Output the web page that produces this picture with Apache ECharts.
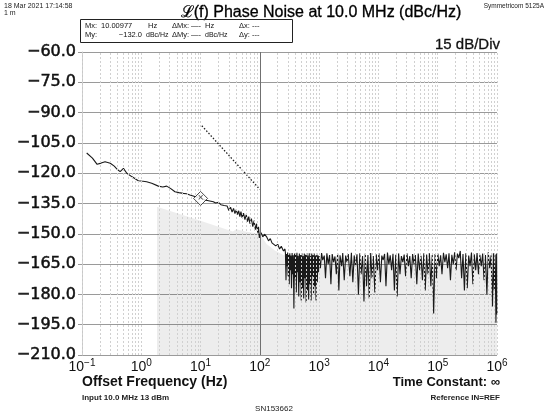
<!DOCTYPE html>
<html>
<head>
<meta charset="utf-8">
<script src="https://cdn.jsdelivr.net/npm/echarts@6/dist/echarts.min.js"></script>
<style>
  html, body { margin: 0; padding: 0; background: #fff; }
  #chart { width: 547px; height: 414px; }
</style>
</head>
<body>
<div id="chart"></div>
<script>
// y ticks (dBc/Hz), 15 dB per division
const levelTicks = [-60, -75, -90, -105, -120, -135, -150, -165, -180, -195, -210];
// decades of offset frequency (Hz)
const decades = [0.1, 1, 10, 100, 1000, 10000, 100000, 1000000];
const minorSteps = [2, 3, 4, 5, 6, 7, 8, 9];

// measured phase noise trace, close-in part
const closeFreq = [
  0.12, 0.15, 0.18, 0.21, 0.245, 0.3, 0.35, 0.4, 0.44, 0.5, 0.57, 0.7, 0.89, 1.0, 1.23, 1.5,
  1.94, 2.3, 2.68, 3.1, 3.7, 4.3, 5.1, 5.8, 6.6, 7.5, 8.5, 10, 11.5, 13, 14, 16.4, 18, 20, 22, 25,
  28, 30, 32, 34, 36, 38, 40, 42, 44, 46, 48, 50, 53, 56, 59, 62, 65, 68, 72, 76, 80, 84, 88, 92,
  95, 98, 100, 105, 112, 120, 130, 140, 150, 160, 170, 185, 200, 215, 230, 250, 265
];
const closeLevel = [
  -110, -112.5, -115.6, -115, -114.3, -115.1, -116.5, -118.3, -119.2, -117.6, -120, -121.8, -123.7, -123.9, -124.2, -125,
  -126.4, -126.8, -126.4, -127.5, -129.2, -129.6, -130, -130.2, -130.8, -131.3, -131.8, -132, -133.2, -133.5, -133, -134.1, -134.8, -134.4, -135.6, -136,
  -136.2, -138.5, -136.8, -139.2, -137.4, -140, -138, -140.5, -138.6, -141.5, -139, -142, -139.8, -143, -140.5, -144, -141.5, -145, -142.5, -146.5, -143.5, -148, -145, -149.5,
  -146.5, -152, -150.5, -149.5, -151.5, -150.2, -151.5, -153.5, -152.4, -154.5, -153.6, -156, -155.2, -157.5, -156.2, -158.5, -157.5
];

// measured phase noise trace, noise floor part
const floorNoiseFreq = [
  270, 276, 282, 288, 294, 300, 306, 313, 320, 327,
  334, 342, 350, 358, 366, 375, 384, 393, 402, 412,
  422, 432, 442, 453, 464, 475, 487, 499, 511, 523,
  536, 549, 562, 576, 590, 604, 619, 634, 649, 665,
  681, 698, 715, 732, 750, 768, 787, 806, 826, 846,
  866, 887, 909, 931, 954, 977, 1000, 1050, 1100,
  1150, 1220, 1280, 1350, 1420, 1500, 1580, 1660, 1750, 1850, 1950, 2050, 2150, 2250, 2400, 2500,
  2650, 2800, 2950, 3100, 3300, 3500, 3700, 3900, 4100, 4350, 4600, 4850, 5100, 5400, 5700, 6000,
  6300, 6650, 7000, 7400, 7800, 8200, 8700, 9200, 9700, 10200, 10800, 11400, 12000, 12700, 13400,
  14200, 15000, 15800, 16700, 17600, 18600, 19600, 20700, 21900, 23100, 24400, 25800, 27200, 28700,
  30300, 32000, 33800, 35700, 37700, 39800, 42000, 44400, 46900, 49500, 52300, 55200, 58300, 61600,
  65000, 68700, 72500, 76600, 80900, 85400, 90200, 95200, 100500, 106000, 112000, 118000, 125000,
  132000, 139000, 147000, 155000, 164000, 173000, 183000, 193000, 204000, 215000, 227000, 240000,
  253000, 267000, 282000, 298000, 315000, 333000, 351000, 371000, 392000, 414000, 437000, 461000,
  487000, 514000, 543000, 573000, 605000, 639000, 675000, 713000, 753000, 795000, 840000, 870000,
  900000, 930000, 960000, 985000, 1000000
];
const floorNoiseLevel = [
  -159.5, -173, -160, -166, -159.3, -171, -160.4, -175, -159.6, -168,
  -160.8, -177, -159.5, -170, -160.6, -187, -159.8, -172, -160.3, -179,
  -159.4, -169, -160.9, -181, -159.7, -174, -160.5, -183, -159.6, -177,
  -161, -182, -159.8, -172, -160.4, -184, -159.5, -178, -160.7, -182.5,
  -159.6, -175, -160.9, -183, -159.8, -171, -160.5, -180, -159.7, -176,
  -160.8, -183, -159.6, -174, -160.6, -169, -161, -167, -159.5,
  -163, -160.8, -172, -159.6, -165, -160.5, -175, -160, -164, -161.2, -170, -159.8, -178, -160.6, -166, -159.5,
  -173, -160.8, -164, -160, -171, -159.4, -174, -160.7, -166, -160.1, -180, -159.6, -170, -161, -183.5, -159.8,
  -176, -160.5, -182, -159.5, -172, -161, -179, -160.2, -168, -159.7, -174, -160.8, -163, -160, -176,
  -159.3, -165, -160.6, -168, -159.9, -178, -160.4, -181, -159.7, -170, -161, -164, -160.3, -171,
  -159.6, -166, -161, -172, -160, -165, -160.5, -175, -159.8, -168, -160.9, -173, -159.7, -178,
  -160.3, -170, -159.6, -176, -160.5, -189.5, -160, -172, -159.8, -166, -160.6, -170, -159.4,
  -164, -160.2, -167, -159.7, -173, -160.4, -165, -159.2, -168, -159.8, -162, -158.5,
  -172, -160, -178, -159.6, -177, -160.8, -166, -159.3, -175, -160.2, -168, -159.5,
  -170, -160.4, -166, -159.8, -173, -160.5, -180, -159.2, -167, -160.6, -186, -159.6,
  -178, -160.2, -194, -159.8, -190
];

// shaded reference floor
const floorFreq = [1.84, 1.84, 5, 10, 20, 35, 40, 60, 100, 130, 180, 250, 400, 1000, 10000, 100000, 1000000];
const floorLevel = [-210, -136.6, -140.7, -143.6, -146.5, -148.9, -147.8, -149, -150, -155, -158.3, -160.5, -161.8, -162.5, -163.5, -164, -164];

// dotted slope reference line
const slopeFreq = [10.5, 100];
const slopeLevel = [-96.5, -128];

// marker
const markerFreq = 10;
const markerLevel = -132.5;

const FONT = '"Liberation Sans", Arial, sans-serif';
const WIDE = '"DejaVu Sans", sans-serif';
const pairs = (xs, ys) => xs.map((x, i) => [x, ys[i]]);

const minorLines = [];
decades.forEach(d => {
  minorLines.push({ xAxis: d });
  if (d < 1000000) minorSteps.forEach(s => minorLines.push({ xAxis: d * s }));
});

const minus = v => (v < 0 ? '\u2212' : '') + Math.abs(v);

const chart = echarts.init(document.getElementById('chart'), null, { renderer: 'canvas' });
chart.setOption({
  animation: false,
  backgroundColor: '#fff',
  textStyle: { fontFamily: FONT },
  grid: { left: 82, right: 50, top: 52, bottom: 59 },
  xAxis: {
    type: 'log',
    logBase: 10,
    min: 0.1,
    max: 1000000,
    axisLine: { show: false },
    axisTick: { show: false },
    splitLine: { show: false },
    axisLabel: {
      margin: 3,
      formatter: v => '{b|10}{s|' + minus(Math.round(Math.log10(v))) + '}',
      rich: {
        b: { fontSize: 14, color: '#111', fontFamily: FONT, lineHeight: 18 },
        s: { fontSize: 10, color: '#111', fontFamily: FONT, verticalAlign: 'top' }
      }
    }
  },
  yAxis: {
    type: 'value',
    min: -210,
    max: -60,
    interval: 15,
    axisLine: { show: true, lineStyle: { color: '#c8c8c8', width: 1 } },
    axisTick: { show: true, length: 4, lineStyle: { color: '#999' } },
    splitLine: { show: true, lineStyle: { color: '#9a9a9a', width: 1 } },
    axisLabel: {
      margin: 6,
      fontSize: 16,
      color: '#111',
      fontFamily: WIDE,
      textBorderColor: '#111',
      textBorderWidth: 0.5,
      formatter: v => (v < 0 ? '\u2212' : '') + Math.abs(v).toFixed(1)
    }
  },
  series: [
    {
      type: 'line',
      data: pairs(floorFreq, floorLevel),
      symbol: 'none',
      lineStyle: { width: 0 },
      areaStyle: { origin: 'start', color: 'rgba(0,0,0,0.1)' },
      silent: true
    },
    {
      type: 'line',
      data: [],
      silent: true,
      markLine: {
        silent: true,
        symbol: 'none',
        label: { show: false },
        lineStyle: { color: '#d0d0d0', type: [2, 2], width: 1 },
        data: minorLines
      }
    },
    {
      type: 'line',
      data: [],
      silent: true,
      markLine: {
        silent: true,
        symbol: 'none',
        label: { show: false },
        lineStyle: { color: '#707070', type: 'solid', width: 1 },
        data: [{ xAxis: 100 }]
      }
    },
    {
      type: 'line',
      data: pairs(slopeFreq, slopeLevel),
      symbol: 'none',
      lineStyle: { color: '#222', width: 1.3, type: [1.5, 1.8] },
      silent: true
    },
    {
      type: 'line',
      data: pairs(closeFreq, closeLevel).concat(pairs(floorNoiseFreq, floorNoiseLevel)),
      symbol: 'none',
      lineStyle: { color: '#1a1a1a', width: 1.1 },
      silent: true
    },
    {
      type: 'scatter',
      data: [[markerFreq, markerLevel]],
      symbol: 'diamond',
      symbolSize: [14, 14],
      itemStyle: { color: '#fff', borderColor: '#222', borderWidth: 1 },
      label: { show: true, position: 'inside', formatter: '\u00d7', fontSize: 10, color: '#222', fontFamily: FONT },
      silent: true,
      z: 5
    }
  ],
  graphic: [
    { type: 'text', left: 4, top: 3, style: { text: '18 Mar 2021 17:14:58', font: '7px ' + FONT, fill: '#222' } },
    { type: 'text', left: 4, top: 10, style: { text: '1 m', font: '7px ' + FONT, fill: '#222' } },
    { type: 'text', right: 3, top: 3, style: { text: 'Symmetricom 5125A', font: '6.5px ' + FONT, fill: '#222' } },
    { type: 'text', x: 321, y: 13, style: { text: '\u2112(f) Phase Noise at 10.0 MHz (dBc/Hz)', font: '16px ' + FONT, fill: '#000', align: 'center', verticalAlign: 'middle', stroke: '#000', lineWidth: 0.3 } },
    { type: 'rect', shape: { x: 80.5, y: 19.5, width: 212, height: 23 }, style: { fill: 'none', stroke: '#222', lineWidth: 1 } },
    { type: 'text', x: 85, y: 26, style: { text: 'Mx:', font: '7.5px ' + FONT, fill: '#111', verticalAlign: 'middle' } },
    { type: 'text', x: 101, y: 26, style: { text: '10.00977', font: '7.5px ' + FONT, fill: '#111', verticalAlign: 'middle' } },
    { type: 'text', x: 148, y: 26, style: { text: 'Hz', font: '7.5px ' + FONT, fill: '#111', verticalAlign: 'middle' } },
    { type: 'text', x: 172, y: 26, style: { text: '\u0394Mx:', font: '7.5px ' + FONT, fill: '#111', verticalAlign: 'middle' } },
    { type: 'text', x: 191, y: 26, style: { text: '\u2014-', font: '7.5px ' + FONT, fill: '#111', verticalAlign: 'middle' } },
    { type: 'text', x: 205, y: 26, style: { text: 'Hz', font: '7.5px ' + FONT, fill: '#111', verticalAlign: 'middle' } },
    { type: 'text', x: 239, y: 26, style: { text: '\u0394x:', font: '7.5px ' + FONT, fill: '#111', verticalAlign: 'middle' } },
    { type: 'text', x: 252, y: 26, style: { text: '---', font: '7.5px ' + FONT, fill: '#111', verticalAlign: 'middle' } },
    { type: 'text', x: 85, y: 35, style: { text: 'My:', font: '7.5px ' + FONT, fill: '#111', verticalAlign: 'middle' } },
    { type: 'text', x: 142, y: 35, style: { text: '\u2212132.0', font: '7.5px ' + FONT, fill: '#111', align: 'right', verticalAlign: 'middle' } },
    { type: 'text', x: 146, y: 35, style: { text: 'dBc/Hz', font: '7px ' + FONT, fill: '#111', verticalAlign: 'middle' } },
    { type: 'text', x: 172, y: 35, style: { text: '\u0394My:', font: '7.5px ' + FONT, fill: '#111', verticalAlign: 'middle' } },
    { type: 'text', x: 191, y: 35, style: { text: '\u2014-', font: '7.5px ' + FONT, fill: '#111', verticalAlign: 'middle' } },
    { type: 'text', x: 205, y: 35, style: { text: 'dBc/Hz', font: '7px ' + FONT, fill: '#111', verticalAlign: 'middle' } },
    { type: 'text', x: 239, y: 35, style: { text: '\u0394y:', font: '7.5px ' + FONT, fill: '#111', verticalAlign: 'middle' } },
    { type: 'text', x: 252, y: 35, style: { text: '---', font: '7.5px ' + FONT, fill: '#111', verticalAlign: 'middle' } },
    { type: 'text', x: 500, y: 45, style: { text: '15 dB/Div', font: '15px ' + FONT, fill: '#111', align: 'right', verticalAlign: 'middle', stroke: '#111', lineWidth: 0.3 } },
    { type: 'text', x: 82, y: 382, style: { text: 'Offset Frequency (Hz)', font: 'bold 14px ' + FONT, fill: '#111', verticalAlign: 'middle' } },
    { type: 'text', x: 500, y: 382, style: { text: 'Time Constant: \u221e', font: 'bold 13px ' + FONT, fill: '#111', align: 'right', verticalAlign: 'middle' } },
    { type: 'text', x: 82, y: 398, style: { text: 'Input 10.0 MHz 13 dBm', font: 'bold 8px ' + FONT, fill: '#222', verticalAlign: 'middle' } },
    { type: 'text', x: 500, y: 398, style: { text: 'Reference IN=REF', font: 'bold 8px ' + FONT, fill: '#222', align: 'right', verticalAlign: 'middle' } },
    { type: 'text', x: 274, y: 409, style: { text: 'SN153662', font: '8px ' + FONT, fill: '#222', align: 'center', verticalAlign: 'middle' } }
  ]
});
</script>
</body>
</html>
